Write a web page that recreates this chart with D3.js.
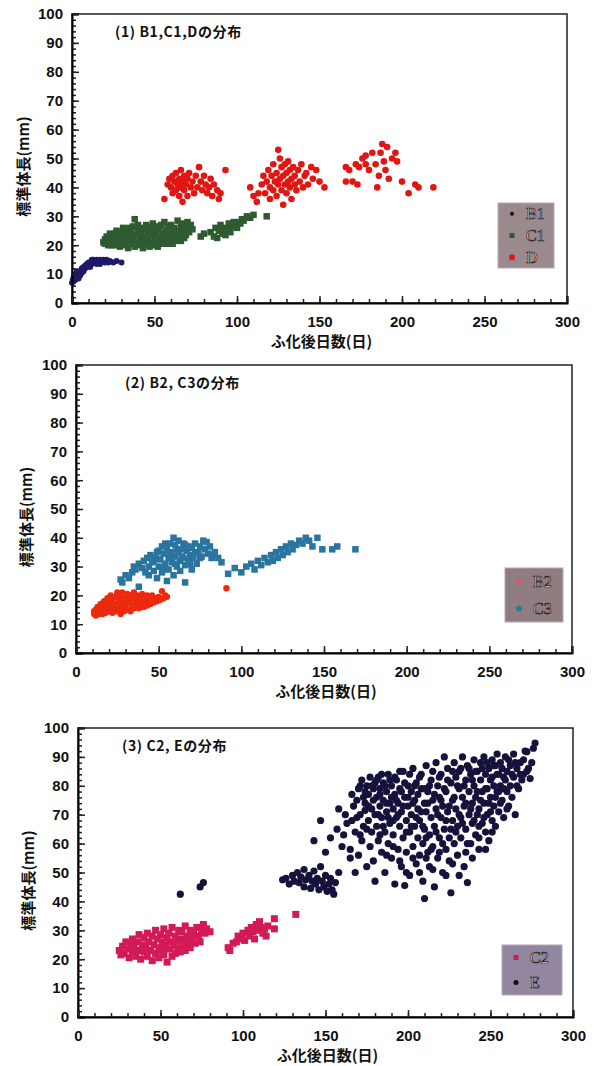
<!DOCTYPE html>
<html lang="ja">
<head>
<meta charset="UTF-8">
<title>標準体長の分布</title>
<script src="https://cdn.jsdelivr.net/npm/d3@7"></script>
<style>
body { margin: 0; background: #fff; }
svg { display: block; }
.tick-label { font-family: "Liberation Sans", Arial, sans-serif; font-weight: bold; font-size: 15px; fill: #111; }
.jp { font-family: "Noto Sans CJK JP", sans-serif; font-weight: bold; fill: #111; }
.leg-text { font-family: "Liberation Serif", "DejaVu Serif", serif; font-size: 16px; fill: #e6dede; stroke: #2a2226; stroke-width: 0.7px; }
</style>
</head>
<body>
<svg id="chart" width="594" height="1066"></svg>
<script>
// ---- data: [days after hatching, standard length mm] ----
const xTicks = [0, 50, 100, 150, 200, 250, 300];
const yTicks = [0, 10, 20, 30, 40, 50, 60, 70, 80, 90, 100];

const b1 = [[0,7],[0.5,8],[1,9],[1,7.5],[2,8],[2,10],[3,9],[3,11],[4,10],[4,8.5],[5,11],[5,9.5],[6,10.5],[6,12],[7,11],[7,12.5],[8,12],[8,13],[9,12.5],[9,13.5],[10,13],[10,14],[11,12.5],[11,14],[12,13.5],[12,15],[13,14],[13,15],[14,14.5],[15,15],[15,13.5],[16,14],[17,15],[17,13.5],[18,14.5],[19,15],[20,14],[21,15],[22,14],[23,14.5],[25,14],[27,14.5],[30,14]];

const c1 = [[19,21],[20,22],[20,20.5],[21,21.5],[21,23],[22,20],[22,22.5],[23,21],[23,24],[24,22],[24,20],[25,23],[25,21.5],
[26,20],[26,24],[27,22],[27,25],[28,21],[28,23.5],[29,19.5],[29,22.5],[30,24.5],[30,21],[31,26],[31,23],[32,20],[32,22],[33,24],[33,25.5],[34,21.5],[34,19],[35,23],[35,26],
[36,20.5],[36,24.5],[37,22],[37,26.5],[38,29],[38,19.5],[39,23.5],[39,21],[40,25],[40,27],[41,20],[41,22.5],[42,24],[42,26],[43,19],[43,21.5],[44,23],[44,25.5],[45,20.5],[45,27],
[46,22],[46,24.5],[47,19.5],[47,26],[48,21],[48,23.5],[49,25],[49,27.5],[50,20],[50,22.5],[51,24],[51,26.5],[52,21],[52,19.5],[53,23],[53,25.5],[54,21.5],[54,27],[55,24],[55,20.5],
[56,28],[56,22],[57,25],[57,23],[58,20.5],[58,26.5],[59,24],[59,21.5],[60,22.5],[60,27],[61,25],[61,20.5],[62,23.5],[62,26],[63,21.5],[63,24.5],[64,28.5],[64,22],[65,25],[65,23],
[66,21.5],[66,26.5],[67,24],[67,27.5],[68,22.5],[68,25],[69,23.5],[70,26],[70,28],[71,24.5],[72,27],[73,25.5],
[78,23],[80,24],[84,24.5],[86,23],[87,26],[88,22.5],[89,25],[90,27],[91,24],[92,26],[93,23.5],[94,25.5],[95,27.5],[96,24.5],[97,26.5],[98,28],[99,27],[100,26],[101,28],[102,27.5],[103,29],[104,28.5],[106,30],[108,29.5],[110,30.5],[118,30]];

const dSeries = [[56,36],[58,41],[59,43],[60,40],[61,38],[61,44],[62,42],[63,39],[63,45],[64,41],[65,43],[65,37],[66,40],[66,46],[67,35],[67,42],[68,44],[68,39],[69,41],[70,43],[70,37],[71,45],[72,40],[73,42],[74,38],[75,44],[76,40],[77,47],[78,42],[79,39],[80,44],[81,41],[82,38],[83,40],[84,43],[85,37],[86,41],[88,39],[89,36],[90,38],[93,46],
[108,40],[110,37],[112,35],[113,38],[115,41],[116,44],[117,38],[118,42],[119,46],[120,40],[120,36],[121,44],[122,48],[122,39],[123,42],[124,45],[124,37],[125,53],[125,41],[126,50],[126,43],[127,39],[127,47],[128,44],[128,34],[129,41],[129,48],[130,45],[130,38],[131,42],[131,49],[132,40],[132,46],[133,43],[133,36],[134,47],[135,41],[135,44],[136,39],[137,46],[138,42],[139,48],[140,40],[141,44],[142,45],[143,41],[145,47],[146,43],[148,46],[150,42],[153,40],
[166,47],[166,42],[168,46],[170,42],[172,48],[173,41],[174,47],[176,50],[178,51],[178,48],[180,46],[182,52],[184,48],[185,40],[186,44],[187,52],[188,55],[189,49],[190,46],[191,54],[192,43],[194,50],[196,52],[197,49],[200,42],[204,38],[208,41],[210,40],[219,40]];

const b2 = [[11,13.5],[11,14.5],[12,13],[12,15],[13,14],[13,16],[14,13.5],[14,15.5],[15,14.5],[15,17],[16,13.5],[16,16],[17,15],[17,18],[18,14],[18,16.5],[19,15.5],[19,19],[20,14.5],[20,17.5],[21,16],[21,20],[22,14],[22,18.5],[23,15.5],[23,17],[24,19.5],[24,14.5],[25,16.5],[25,21],[26,15],[26,18],[27,19.5],[27,13.5],[28,16],[28,21],[29,17.5],[29,14.5],[30,19],[30,16],[31,20.5],[31,15],[32,17.5],[32,18.5],[33,14.5],[33,20],[34,16.5],[34,19],[35,15.5],[35,21],[36,17.5],[36,18.5],[37,16],[37,20],[38,15.5],[38,18],[39,19.5],[39,16.5],[40,17.5],[40,20.5],[41,16],[41,18.5],[42,19],[42,17],[43,20],[43,16.5],[44,18],[44,19.5],[45,17],[46,18.5],[46,20],[47,17.5],[48,19],[49,18],[50,19.5],[51,18.5],[52,21.5],[53,19],[54,20],[55,19.5],[91,22.5]];

const c3 = [[27,25.5],[28,24.5],[30,27],[32,26],[34,28],[35,30],[36,29],[38,23],[38,31],[40,29.5],[41,32],[42,28],[43,33],[44,30],[44,27],[45,34],[46,31.5],[47,28.5],[47,32],[48,33],[49,26],[49,35],[50,30],[50,35.5],[51,32.5],[52,37],[52,28],[53,34.5],[53,29],[54,31],[54,38],[55,25],[55,36],[56,29],[56,33],[57,38],[57,34],[58,31.5],[58,35],[59,40],[59,27],[60,33.5],[60,37.5],[60,31],[61,30],[61,36],[62,35],[62,39],[63,32],[63,28.5],[64,36],[64,33.5],[65,33],[65,38],[66,30.5],[66,24.5],[66,37.5],[67,35.5],[68,32],[68,37],[69,34],[69,31],[70,29],[70,36.5],[71,33],[72,38],[72,35],[73,31],[74,35],[75,37],[75,33],[76,33.5],[77,39],[78,36],[79,38.5],[80,34.5],[81,37],[82,33],[83,34],[84,35],[86,33],[88,31.5],
[92,27.5],[96,29.5],[100,28],[103,30],[106,31],[108,29],[110,32],[112,30.5],[114,33],[116,31.5],[118,34],[119,32],[121,35],[122,33],[124,36],[125,34],[127,37],[128,35],[130,38],[131,36],[133,37.5],[135,39],[137,38],[139,40],[141,39],[143,37],[146,40],[149,36],[155,36],[158,37],[169,36]];

const c2 = [[25,23],[26,21.5],[27,24.5],[28,22],[29,26],[30,23.5],[31,20.5],[32,25],[33,22.5],[33,27],[34,24],[35,21],[36,26],[37,23],[37,28.5],[38,20],[39,25],[40,22.5],[40,27.5],[41,24],[42,21],[42,29],[43,26],[44,23],[45,19.5],[45,28],[46,25],[47,22],[47,30],[48,27],[49,24],[49,20.5],[50,28.5],[51,23],[51,26],[52,21.5],[52,30.5],[53,25],[54,27.5],[54,19],[55,23.5],[55,29],[56,26],[57,21],[57,31],[58,24.5],[59,28],[59,22],[60,26.5],[61,30],[61,24],[62,22.5],[63,27],[63,29.5],[64,25],[65,31.5],[65,23],[66,28],[67,26],[68,30],[68,24],[69,27.5],[70,29],[71,25.5],[72,31],[73,28],[74,26],[75,30],[76,32],[77,29],[78,30.5],[80,29.5],
[91,24],[92,23],[94,25.5],[96,26],[97,28],[99,27],[100,29],[101,26.5],[103,30],[104,28],[105,31],[106,29.5],[107,27],[108,32],[109,30],[110,33],[111,31],[112,29],[113,30.5],[114,28],[115,31.5],[119,34],[119,30.5],[132,35.5]];

const eSeries = [[62,42.5],[74,45],[76,46.5],
[124,47.5],[126,48],[128,46],[130,49],[131,47],[133,50],[134,46.5],[135,48.5],[137,45],[137,51],[138,47.5],[140,49],[141,44.5],[142,47],[143,50.5],[144,46],[145,48],[146,44],[147,52],[148,47],[149,45],[150,49],[151,43.5],[152,46],[153,48],[154,44],[155,42.5],[156,46.5],[158,50],
[143,61],[147,68],[150,57],[153,62],[157,65],[160,59],[162,70],[165,55],[167,73],[169,69],[171,63],[173,76],[174,71.5],
[158,72],[161,63],[163,67],[166,68],[169,75],[171,80],[174,78],[175,65],
[165,58],[166,77],[168,64],[168,50],[170,79],[170,56],[171,70],[172,82],[172,61],[173,66],[174,74],[175,80],[175,52],[176,68],[176,77],[177,83],[177,59],[178,72],[178,64],[179,79],[179,54],[180,81],[180,70],[180,47],
[181,76],[181,66],[182,83],[182,61],[183,73],[183,79],[184,57],[184,69],[185,81],[185,75],[186,64],[186,50],[187,78],[187,71],[188,84],[188,60],[189,67],[189,74],[190,80],[190,55],[191,72],[191,63],[192,77],[192,46],[193,69],[193,82],[194,58],[194,74],[195,66],[195,79],
[196,71],[196,52],[197,85],[197,62],[198,76],[198,45.5],[199,68],[199,57],[200,80],[200,73],[201,64],[201,49],[202,78],[202,70],[203,59],[203,86],[204,66],[204,75],[205,53],[205,81],[206,62],[206,72],[207,68],[207,56],[208,79],[208,84],[209,60],[209,47],[210,74],[210,41],[210,65],
[211,71],[211,87],[212,57],[212,78],[213,63],[213,52],[214,82],[214,69],[215,75],[215,59],[216,45],[216,66],[217,88],[217,72],[218,55],[218,80],[219,62],[219,76],[220,69],[220,84],[221,50],[221,73],[222,65],[222,90],[223,58],[223,78],[224,71],[224,86],[225,62],[225,54],
[226,81],[226,43],[227,68],[227,75],[228,88],[228,60],[229,72],[229,83],[230,56],[230,66],[231,79],[231,85],[232,69],[232,62],[233,76],[233,90],[234,52],[234,73],[235,82],[235,65],[236,46.5],[236,87],[237,70],[237,78],[238,60],[238,84],[239,74],[239,67],[240,80],[240,89],
[241,63],[241,76],[242,85],[242,70],[243,72],[243,58],[244,82],[244,88],[245,67],[245,78],[246,74],[246,90],[247,64],[247,84],[248,79],[248,70],[249,86],[249,61],[250,76],[250,82],[251,68],[251,89],[252,73],[252,80],[253,66],[253,87],[254,78],[254,91],[255,71],[255,84],
[256,80],[256,88],[257,75],[258,83],[258,69],[259,90],[260,78],[260,85],[261,73],[262,87],[262,80],[263,76],[264,91],[264,83],[265,70],[266,86],[267,79],[268,88],[269,82],[270,84],[271,92],[272,91.8],[273,86],[274,82.5],[275,88],[276,93],[277,94.8],
[176,73],[178,80],[179,75],[181,82],[182,70],[183,77],[184,84],[185,66],[186,80],[187,74],[188,69],[189,82],[190,76],[191,68],[192,83],[193,75],[194,70],[195,85],[196,78],[197,73],[198,81],[199,64],[200,76],[201,84],[202,66],[203,74],[204,80],[205,69],[206,77],[207,83],[208,71],[209,66],[210,79],[211,62],[212,74],[213,80],[214,58],[215,85],[216,77],[217,64],[218,70],[219,83],[220,75],[221,60],[222,79],[223,68],[224,82],[225,73],[226,65],[227,85],[228,76],[229,64],[230,80],[231,70],[232,86],[233,67],[234,80],[235,74],[236,60],[237,86],[238,72],[239,82],[240,68],[241,85],[242,78],[243,66],[244,75],[245,86],[246,69],[247,79],[248,88],[249,74],[250,71],[251,83],[252,87],[253,76],[254,84],[255,78],[256,74],[257,86],[258,79],[259,82],[260,72],[261,89],[263,84],[265,88],[266,80],[268,84],[270,89],[272,85],
[183,63],[187,56],[191,59],[195,54],[199,50],[203,55],[207,50],[211,55],[215,51],[219,57],[223,49],[227,53],[231,49],[235,57],[239,55],[243,62],[247,58],[251,64]];

const xLabel = "ふ化後日数(日)";
const yLabel = "標準体長(mm)";

// ---- panel layout ----
const panels = [
  { left: 72, right: 567, top: 14, bottom: 303, title: "(1)  B1,C1,Dの分布", titleX: 115, yLabX: 22,
    series: [{ data: b1, shape: "circle", size: 3, color: "#1c1a6a" },
             { data: c1, shape: "square", size: 6.5, color: "#2f5b30" },
             { data: dSeries, shape: "circle", size: 3.3, color: "#e01612" }],
    legend: { x: 498, y: 203, w: 56, h: 65, bg: "#9a8a8e",
              items: [{ name: "B1", shape: "circle", size: 2, color: "#111" },
                      { name: "C1", shape: "square", size: 5, color: "#2f5b30" },
                      { name: "D", shape: "circle", size: 3, color: "#e01612" }] } },
  { left: 76, right: 572, top: 365, bottom: 653, title: "(2)  B2, C3の分布", titleX: 125, yLabX: 25,
    series: [{ data: c3, shape: "square", size: 6.5, color: "#2a74a0" },
             { data: b2, shape: "circle", size: 3.2, color: "#ec2a0e" }],
    legend: { x: 505, y: 568, w: 58, h: 54, bg: "#8f7d82",
              items: [{ name: "B2", shape: "square", size: 5, color: "#f04a6a" },
                      { name: "C3", shape: "circle", size: 3, color: "#2a7a90" }] } },
  { left: 78, right: 573, top: 728, bottom: 1017, title: "(3)  C2, Eの分布", titleX: 122, yLabX: 27,
    series: [{ data: c2, shape: "square", size: 7, color: "#d21a55" },
             { data: eSeries, shape: "circle", size: 3.6, color: "#15123c" }],
    legend: { x: 502, y: 945, w: 60, h: 50, bg: "#9386a0",
              items: [{ name: "C2", shape: "square", size: 5, color: "#d21a55" },
                      { name: "E", shape: "circle", size: 2.5, color: "#111" }] } }
];

const svg = d3.select("#chart");

function drawMark(g, shape, size, color, cx, cy) {
  if (shape === "circle") {
    g.append("circle").attr("cx", cx).attr("cy", cy).attr("r", size).attr("fill", color);
  } else {
    g.append("rect").attr("x", cx - size / 2).attr("y", cy - size / 2)
      .attr("width", size).attr("height", size).attr("fill", color);
  }
}

panels.forEach(p => {
  const g = svg.append("g");
  const x = d3.scaleLinear().domain([0, 300]).range([p.left, p.right]);
  const y = d3.scaleLinear().domain([0, 100]).range([p.bottom, p.top]);

  // frame (top/right thinner)
  g.append("rect").attr("x", p.left).attr("y", p.top)
    .attr("width", p.right - p.left).attr("height", p.bottom - p.top)
    .attr("fill", "#fff").attr("stroke", "#222").attr("stroke-width", 1.5);

  // points
  p.series.forEach(s => {
    const sg = g.append("g");
    s.data.forEach(d => drawMark(sg, s.shape, s.size, s.color, x(d[0]), y(d[1])));
  });

  // y axis: minor every 2, major every 10
  g.append("g").attr("transform", `translate(${p.left},0)`)
    .call(d3.axisLeft(y).tickValues(d3.range(0, 101, 2)).tickSize(-4).tickFormat(""))
    .call(a => a.select(".domain").remove());
  const ya = g.append("g").attr("transform", `translate(${p.left},0)`)
    .call(d3.axisLeft(y).tickValues(yTicks).tickSize(-7).tickPadding(9));
  ya.select(".domain").attr("stroke-width", 2);
  ya.selectAll("text").attr("class", "tick-label");

  // x axis: minor every 10, major every 50
  g.append("g").attr("transform", `translate(0,${p.bottom})`)
    .call(d3.axisBottom(x).tickValues(d3.range(0, 301, 10)).tickSize(-4).tickFormat(""))
    .call(a => a.select(".domain").remove());
  const xa = g.append("g").attr("transform", `translate(0,${p.bottom})`)
    .call(d3.axisBottom(x).tickValues(xTicks).tickSize(-7).tickPadding(13));
  xa.select(".domain").attr("stroke-width", 2);
  xa.selectAll("text").attr("class", "tick-label");
  g.selectAll(".tick line").attr("stroke", "#222").attr("stroke-width", 1.5);

  // title
  g.append("text").attr("class", "jp").attr("x", p.titleX).attr("y", p.top + 23)
    .attr("font-size", 14).attr("letter-spacing", 0.6).text(p.title);

  // axis labels
  g.append("text").attr("class", "jp").attr("font-size", 15)
    .attr("x", (p.left + p.right) / 2 + 2).attr("y", p.bottom + 44)
    .attr("text-anchor", "middle").text(xLabel);
  g.append("text").attr("class", "jp").attr("font-size", 15)
    .attr("transform", `translate(${p.yLabX},${(p.top + p.bottom) / 2 + 8}) rotate(-90)`)
    .attr("text-anchor", "middle").attr("dominant-baseline", "central").text(yLabel);

  // legend
  const L = p.legend;
  const lg = g.append("g");
  lg.append("rect").attr("x", L.x).attr("y", L.y).attr("width", L.w).attr("height", L.h)
    .attr("fill", L.bg).attr("stroke", "#b8aab0").attr("stroke-width", 1);
  const step = L.h / L.items.length;
  L.items.forEach((it, i) => {
    const cy = L.y + step * (i + 0.5);
    drawMark(lg, it.shape, it.size, it.color, L.x + 14, cy);
    lg.append("text").attr("class", "leg-text").attr("x", L.x + 28).attr("y", cy)
      .attr("dominant-baseline", "central").text(it.name);
  });
});
</script>
</body>
</html>
